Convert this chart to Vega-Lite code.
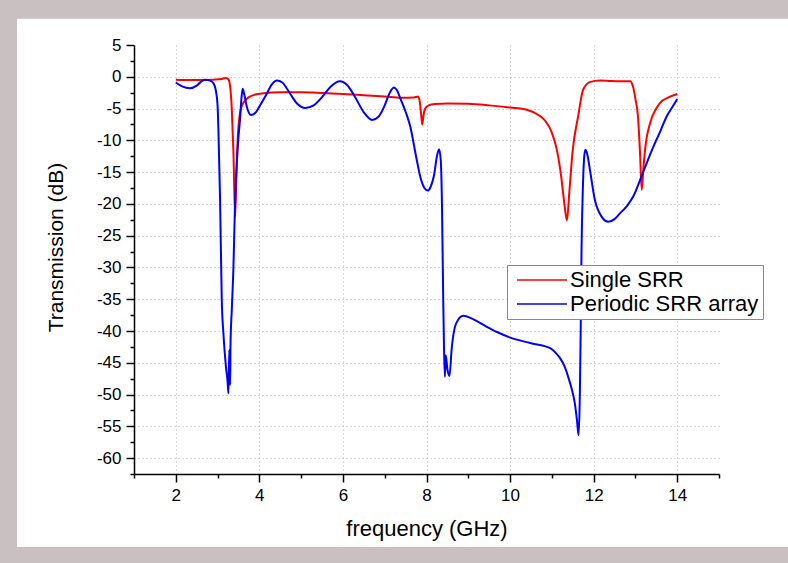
{
  "$schema": "https://vega.github.io/schema/vega-lite/v6.json",
  "width": 585,
  "height": 429,
  "autosize": {"type": "none"},
  "padding": {"left": 134, "top": 45, "right": 69, "bottom": 89},
  "background": "white",
  "config": {
    "font": "Liberation Sans",
    "view": {"stroke": null},
    "axis": {"labelFont": "Liberation Sans", "titleFont": "Liberation Sans", "labelColor": "black", "titleColor": "black", "titleFontWeight": "normal"}
  },
  "layer": [
    {
      "data": {"values": [{}]},
      "mark": {"type": "rect", "color": "#c9c1c1", "clip": false},
      "encoding": {
        "x": {"datum": -6, "type": "quantitative", "scale": {"domain": [1, 15], "nice": false, "zero": false},
          "axis": {"orient": "bottom", "values": [1, 3, 5, 7, 9, 11, 13, 15], "labels": false, "domain": false, "grid": false, "tickSize": 4, "tickWidth": 1.5, "tickColor": "black", "title": null}},
        "x2": {"datum": 20},
        "y": {"datum": 9.14, "type": "quantitative", "scale": {"domain": [-62.5, 5], "nice": false, "zero": false},
          "axis": {"orient": "left", "values": [-62.5, -57.5, -52.5, -47.5, -42.5, -37.5, -32.5, -27.5, -22.5, -17.5, -12.5, -7.5, -2.5, 2.5], "labels": false, "domain": false, "grid": false, "tickSize": 4, "tickWidth": 1.5, "tickColor": "black", "title": null}},
        "y2": {"datum": 16}
      }
    },
    {
      "data": {"values": [{}]},
      "mark": {"type": "rect", "color": "#c9c1c1", "clip": false},
      "encoding": {
        "x": {"datum": -6, "type": "quantitative", "scale": {"domain": [1, 15], "nice": false, "zero": false}, "axis": null},
        "x2": {"datum": -1.8},
        "y": {"datum": -85, "type": "quantitative", "scale": {"domain": [-62.5, 5], "nice": false, "zero": false}, "axis": null},
        "y2": {"datum": 16}
      }
    },
    {
      "data": {"values": [{}]},
      "mark": {"type": "rect", "color": "#c9c1c1", "clip": false},
      "encoding": {
        "x": {"datum": -6, "type": "quantitative", "scale": {"domain": [1, 15], "nice": false, "zero": false}, "axis": null},
        "x2": {"datum": 20},
        "y": {"datum": -85, "type": "quantitative", "scale": {"domain": [-62.5, 5], "nice": false, "zero": false}, "axis": null},
        "y2": {"datum": -74.0}
      }
    },
    {
      "data": {
        "values": [
          {"f": 2.0, "t": -0.45, "s": "Single SRR"},
          {"f": 2.3, "t": -0.5, "s": "Single SRR"},
          {"f": 2.6, "t": -0.5, "s": "Single SRR"},
          {"f": 2.9, "t": -0.45, "s": "Single SRR"},
          {"f": 3.1, "t": -0.35, "s": "Single SRR"},
          {"f": 3.2, "t": -0.2, "s": "Single SRR"},
          {"f": 3.26, "t": -0.4, "s": "Single SRR"},
          {"f": 3.3, "t": -1.5, "s": "Single SRR"},
          {"f": 3.34, "t": -5, "s": "Single SRR"},
          {"f": 3.38, "t": -12, "s": "Single SRR"},
          {"f": 3.42, "t": -22, "s": "Single SRR"},
          {"f": 3.45, "t": -16, "s": "Single SRR"},
          {"f": 3.48, "t": -10, "s": "Single SRR"},
          {"f": 3.52, "t": -6.5, "s": "Single SRR"},
          {"f": 3.58, "t": -4.6, "s": "Single SRR"},
          {"f": 3.65, "t": -3.8, "s": "Single SRR"},
          {"f": 3.75, "t": -3.2, "s": "Single SRR"},
          {"f": 3.9, "t": -2.8, "s": "Single SRR"},
          {"f": 4.1, "t": -2.6, "s": "Single SRR"},
          {"f": 4.5, "t": -2.45, "s": "Single SRR"},
          {"f": 5.0, "t": -2.45, "s": "Single SRR"},
          {"f": 5.5, "t": -2.55, "s": "Single SRR"},
          {"f": 6.0, "t": -2.7, "s": "Single SRR"},
          {"f": 6.5, "t": -2.9, "s": "Single SRR"},
          {"f": 7.0, "t": -3.1, "s": "Single SRR"},
          {"f": 7.4, "t": -3.3, "s": "Single SRR"},
          {"f": 7.7, "t": -3.25, "s": "Single SRR"},
          {"f": 7.8, "t": -3.1, "s": "Single SRR"},
          {"f": 7.84, "t": -4, "s": "Single SRR"},
          {"f": 7.88, "t": -6.5, "s": "Single SRR"},
          {"f": 7.9, "t": -7.5, "s": "Single SRR"},
          {"f": 7.93, "t": -6, "s": "Single SRR"},
          {"f": 7.97, "t": -5, "s": "Single SRR"},
          {"f": 8.05, "t": -4.5, "s": "Single SRR"},
          {"f": 8.2, "t": -4.3, "s": "Single SRR"},
          {"f": 8.5, "t": -4.2, "s": "Single SRR"},
          {"f": 9.0, "t": -4.25, "s": "Single SRR"},
          {"f": 9.5, "t": -4.5, "s": "Single SRR"},
          {"f": 10.0, "t": -4.85, "s": "Single SRR"},
          {"f": 10.4, "t": -5.2, "s": "Single SRR"},
          {"f": 10.65, "t": -5.9, "s": "Single SRR"},
          {"f": 10.85, "t": -7.0, "s": "Single SRR"},
          {"f": 11.0, "t": -8.8, "s": "Single SRR"},
          {"f": 11.12, "t": -11.5, "s": "Single SRR"},
          {"f": 11.22, "t": -15.5, "s": "Single SRR"},
          {"f": 11.3, "t": -20, "s": "Single SRR"},
          {"f": 11.36, "t": -22.6, "s": "Single SRR"},
          {"f": 11.42, "t": -18, "s": "Single SRR"},
          {"f": 11.5, "t": -11.5, "s": "Single SRR"},
          {"f": 11.63, "t": -6.2, "s": "Single SRR"},
          {"f": 11.75, "t": -2.0, "s": "Single SRR"},
          {"f": 11.92, "t": -0.8, "s": "Single SRR"},
          {"f": 12.15, "t": -0.57, "s": "Single SRR"},
          {"f": 12.4, "t": -0.65, "s": "Single SRR"},
          {"f": 12.6, "t": -0.7, "s": "Single SRR"},
          {"f": 12.87, "t": -0.72, "s": "Single SRR"},
          {"f": 12.94, "t": -1.5, "s": "Single SRR"},
          {"f": 13.0, "t": -3.5, "s": "Single SRR"},
          {"f": 13.06, "t": -6.2, "s": "Single SRR"},
          {"f": 13.11, "t": -12, "s": "Single SRR"},
          {"f": 13.15, "t": -17.8, "s": "Single SRR"},
          {"f": 13.19, "t": -14.5, "s": "Single SRR"},
          {"f": 13.23, "t": -11.5, "s": "Single SRR"},
          {"f": 13.35, "t": -7.3, "s": "Single SRR"},
          {"f": 13.5, "t": -5.0, "s": "Single SRR"},
          {"f": 13.59, "t": -4.1, "s": "Single SRR"},
          {"f": 13.8, "t": -3.2, "s": "Single SRR"},
          {"f": 14.0, "t": -2.7, "s": "Single SRR"},

          {"f": 2.0, "t": -0.9, "s": "Periodic SRR array"},
          {"f": 2.15, "t": -1.5, "s": "Periodic SRR array"},
          {"f": 2.34, "t": -1.8, "s": "Periodic SRR array"},
          {"f": 2.5, "t": -1.4, "s": "Periodic SRR array"},
          {"f": 2.6, "t": -0.8, "s": "Periodic SRR array"},
          {"f": 2.7, "t": -0.46, "s": "Periodic SRR array"},
          {"f": 2.82, "t": -0.6, "s": "Periodic SRR array"},
          {"f": 2.9, "t": -1.0, "s": "Periodic SRR array"},
          {"f": 2.96, "t": -2.2, "s": "Periodic SRR array"},
          {"f": 3.0, "t": -4.5, "s": "Periodic SRR array"},
          {"f": 3.02, "t": -8.3, "s": "Periodic SRR array"},
          {"f": 3.06, "t": -19.4, "s": "Periodic SRR array"},
          {"f": 3.1, "t": -35, "s": "Periodic SRR array"},
          {"f": 3.14, "t": -40.4, "s": "Periodic SRR array"},
          {"f": 3.2, "t": -45.6, "s": "Periodic SRR array"},
          {"f": 3.24, "t": -48, "s": "Periodic SRR array"},
          {"f": 3.26, "t": -49.8, "s": "Periodic SRR array"},
          {"f": 3.28, "t": -43, "s": "Periodic SRR array"},
          {"f": 3.3, "t": -48.5, "s": "Periodic SRR array"},
          {"f": 3.31, "t": -42, "s": "Periodic SRR array"},
          {"f": 3.34, "t": -36.7, "s": "Periodic SRR array"},
          {"f": 3.38, "t": -29.9, "s": "Periodic SRR array"},
          {"f": 3.42, "t": -19.4, "s": "Periodic SRR array"},
          {"f": 3.46, "t": -13.5, "s": "Periodic SRR array"},
          {"f": 3.5, "t": -9.5, "s": "Periodic SRR array"},
          {"f": 3.54, "t": -6.5, "s": "Periodic SRR array"},
          {"f": 3.57, "t": -3.5, "s": "Periodic SRR array"},
          {"f": 3.6, "t": -1.9, "s": "Periodic SRR array"},
          {"f": 3.64, "t": -2.8, "s": "Periodic SRR array"},
          {"f": 3.7, "t": -4.7, "s": "Periodic SRR array"},
          {"f": 3.8, "t": -6.0, "s": "Periodic SRR array"},
          {"f": 3.9, "t": -5.7, "s": "Periodic SRR array"},
          {"f": 4.0, "t": -4.7, "s": "Periodic SRR array"},
          {"f": 4.15, "t": -3.0, "s": "Periodic SRR array"},
          {"f": 4.3, "t": -1.2, "s": "Periodic SRR array"},
          {"f": 4.42, "t": -0.6, "s": "Periodic SRR array"},
          {"f": 4.55, "t": -0.9, "s": "Periodic SRR array"},
          {"f": 4.73, "t": -2.6, "s": "Periodic SRR array"},
          {"f": 4.9, "t": -4.2, "s": "Periodic SRR array"},
          {"f": 5.1, "t": -4.9, "s": "Periodic SRR array"},
          {"f": 5.3, "t": -4.5, "s": "Periodic SRR array"},
          {"f": 5.5, "t": -3.2, "s": "Periodic SRR array"},
          {"f": 5.7, "t": -1.6, "s": "Periodic SRR array"},
          {"f": 5.93, "t": -0.7, "s": "Periodic SRR array"},
          {"f": 6.1, "t": -1.3, "s": "Periodic SRR array"},
          {"f": 6.3, "t": -3.3, "s": "Periodic SRR array"},
          {"f": 6.5, "t": -5.6, "s": "Periodic SRR array"},
          {"f": 6.7, "t": -6.8, "s": "Periodic SRR array"},
          {"f": 6.85, "t": -6.3, "s": "Periodic SRR array"},
          {"f": 7.0, "t": -4.5, "s": "Periodic SRR array"},
          {"f": 7.1, "t": -2.8, "s": "Periodic SRR array"},
          {"f": 7.22, "t": -1.7, "s": "Periodic SRR array"},
          {"f": 7.3, "t": -2.2, "s": "Periodic SRR array"},
          {"f": 7.37, "t": -3.35, "s": "Periodic SRR array"},
          {"f": 7.5, "t": -5.5, "s": "Periodic SRR array"},
          {"f": 7.61, "t": -7.8, "s": "Periodic SRR array"},
          {"f": 7.75, "t": -12.5, "s": "Periodic SRR array"},
          {"f": 7.85, "t": -15.7, "s": "Periodic SRR array"},
          {"f": 7.95, "t": -17.5, "s": "Periodic SRR array"},
          {"f": 8.03, "t": -17.9, "s": "Periodic SRR array"},
          {"f": 8.1, "t": -17.3, "s": "Periodic SRR array"},
          {"f": 8.18, "t": -15.5, "s": "Periodic SRR array"},
          {"f": 8.25, "t": -12.5, "s": "Periodic SRR array"},
          {"f": 8.3, "t": -11.4, "s": "Periodic SRR array"},
          {"f": 8.34, "t": -13, "s": "Periodic SRR array"},
          {"f": 8.37, "t": -20, "s": "Periodic SRR array"},
          {"f": 8.4, "t": -35, "s": "Periodic SRR array"},
          {"f": 8.42, "t": -43, "s": "Periodic SRR array"},
          {"f": 8.44, "t": -47.2, "s": "Periodic SRR array"},
          {"f": 8.46, "t": -43.8, "s": "Periodic SRR array"},
          {"f": 8.5, "t": -46, "s": "Periodic SRR array"},
          {"f": 8.55, "t": -47.1, "s": "Periodic SRR array"},
          {"f": 8.6, "t": -43, "s": "Periodic SRR array"},
          {"f": 8.71, "t": -38.8, "s": "Periodic SRR array"},
          {"f": 8.88, "t": -37.6, "s": "Periodic SRR array"},
          {"f": 9.1, "t": -38.1, "s": "Periodic SRR array"},
          {"f": 9.43, "t": -39.3, "s": "Periodic SRR array"},
          {"f": 9.7, "t": -40.2, "s": "Periodic SRR array"},
          {"f": 9.99, "t": -41, "s": "Periodic SRR array"},
          {"f": 10.48, "t": -41.9, "s": "Periodic SRR array"},
          {"f": 10.96, "t": -42.7, "s": "Periodic SRR array"},
          {"f": 11.1, "t": -43.5, "s": "Periodic SRR array"},
          {"f": 11.2, "t": -44.3, "s": "Periodic SRR array"},
          {"f": 11.3, "t": -45.5, "s": "Periodic SRR array"},
          {"f": 11.39, "t": -47.2, "s": "Periodic SRR array"},
          {"f": 11.47, "t": -49, "s": "Periodic SRR array"},
          {"f": 11.55, "t": -51.4, "s": "Periodic SRR array"},
          {"f": 11.6, "t": -54, "s": "Periodic SRR array"},
          {"f": 11.64, "t": -56.4, "s": "Periodic SRR array"},
          {"f": 11.67, "t": -50, "s": "Periodic SRR array"},
          {"f": 11.69, "t": -40, "s": "Periodic SRR array"},
          {"f": 11.71, "t": -27.2, "s": "Periodic SRR array"},
          {"f": 11.74, "t": -18, "s": "Periodic SRR array"},
          {"f": 11.77, "t": -13, "s": "Periodic SRR array"},
          {"f": 11.8, "t": -11.5, "s": "Periodic SRR array"},
          {"f": 11.84, "t": -12, "s": "Periodic SRR array"},
          {"f": 11.91, "t": -14.6, "s": "Periodic SRR array"},
          {"f": 12.03, "t": -19.4, "s": "Periodic SRR array"},
          {"f": 12.19, "t": -22, "s": "Periodic SRR array"},
          {"f": 12.35, "t": -22.8, "s": "Periodic SRR array"},
          {"f": 12.5, "t": -22.4, "s": "Periodic SRR array"},
          {"f": 12.63, "t": -21.5, "s": "Periodic SRR array"},
          {"f": 12.8, "t": -20.3, "s": "Periodic SRR array"},
          {"f": 12.95, "t": -18.8, "s": "Periodic SRR array"},
          {"f": 13.19, "t": -14.9, "s": "Periodic SRR array"},
          {"f": 13.43, "t": -11, "s": "Periodic SRR array"},
          {"f": 13.6, "t": -8.5, "s": "Periodic SRR array"},
          {"f": 13.75, "t": -6.2, "s": "Periodic SRR array"},
          {"f": 13.9, "t": -4.6, "s": "Periodic SRR array"},
          {"f": 14.0, "t": -3.5, "s": "Periodic SRR array"}
        ]
      },
      "mark": {"type": "line", "interpolate": "monotone", "strokeWidth": 2},
      "encoding": {
        "x": {"field": "f", "type": "quantitative", "scale": {"domain": [1, 15], "nice": false, "zero": false},
          "axis": {"orient": "bottom", "values": [2, 4, 6, 8, 10, 12, 14], "tickSize": 8, "tickWidth": 1.5, "tickColor": "black", "domainColor": "black", "domainWidth": 1.5,
            "labelFontSize": 17, "labelPadding": 5, "grid": true, "gridColor": "#b5b5b5", "gridDash": [1, 3], "gridWidth": 1,
            "title": "frequency (GHz)", "titleFontSize": 22, "titleY": 54, "titleBaseline": "middle"}},
        "y": {"field": "t", "type": "quantitative", "scale": {"domain": [-62.5, 5], "nice": false, "zero": false},
          "axis": {"orient": "left", "values": [-60, -55, -50, -45, -40, -35, -30, -25, -20, -15, -10, -5, 0, 5], "tickSize": 8, "tickWidth": 1.5, "tickColor": "black", "domainColor": "black", "domainWidth": 1.5,
            "labelFontSize": 17, "labelPadding": 5, "labelExpr": "datum.value + ''", "grid": true, "gridColor": "#b5b5b5", "gridDash": [1, 3], "gridWidth": 1,
            "gridOpacity": {"condition": {"test": "datum.value == 5", "value": 0}, "value": 1},
            "title": "Transmission (dB)", "titleFontSize": 21, "titleX": -78, "titleY": 202, "titleBaseline": "middle"}},
        "color": {"field": "s", "type": "nominal",
          "scale": {"domain": ["Single SRR", "Periodic SRR array"], "range": ["#ff0000", "#0000ff"]},
          "legend": {"orient": "none", "legendX": 373, "legendY": 220, "title": null, "strokeColor": "#888888", "fillColor": "white",
            "padding": 4, "rowPadding": 2, "symbolType": "M-1,0H9", "symbolSize": 100, "symbolStrokeWidth": 1.5,
            "labelFontSize": 22, "labelOffset": 37, "labelLimit": 400, "labelColor": "black", "labelFont": "Liberation Sans"}}
      }
    }
  ],
  "resolve": {"axis": {"x": "independent", "y": "independent"}}
}
